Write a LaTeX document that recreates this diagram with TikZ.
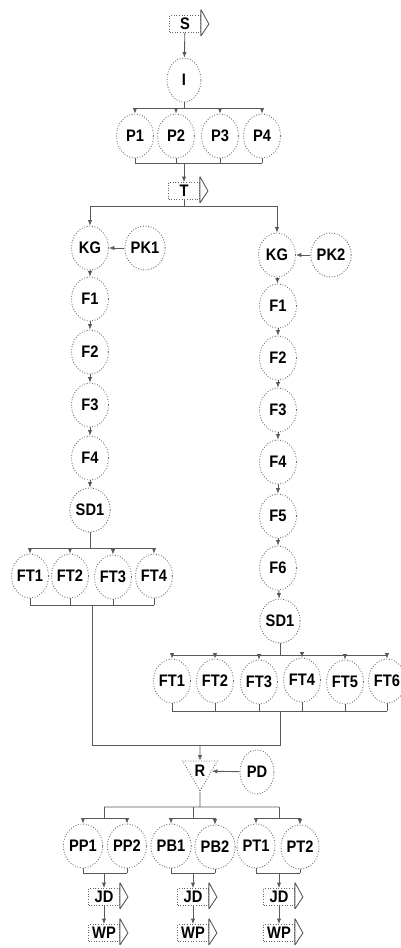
\documentclass[tikz,border=0pt]{standalone}
\usepackage{fontspec}
\setmainfont{Liberation Sans}
\newfontfamily\lblfont[FakeStretch=0.88, UprightFont={Liberation Sans Bold}, BoldFont={Liberation Sans Bold}]{Liberation Sans}
\usetikzlibrary{arrows.meta,shapes.geometric}

\begin{document}
\begin{tikzpicture}[x=0.02cm, y=-0.02cm, font=\lblfont\fontsize{9.5}{10}\selectfont, >={Latex[length=1.1mm,width=0.9mm]}, line width=0.5pt]
	\useasboundingbox (0,0) rectangle (401,948);
      \tikzstyle{st} = [ellipse, draw=black!60, densely dotted, minimum width=7.4mm, minimum height=8.8mm, inner sep=0pt]
      \tikzstyle{ev} = [rectangle, draw=black!60, densely dotted, minimum width=6.2mm, minimum height=3.4mm, inner sep=0pt]
      \tikzstyle{gate} = [regular polygon, regular polygon sides=3, shape border rotate=180, draw=black!60, densely dotted, minimum size=8mm, inner sep=0pt]
      \tikzstyle{ln} = [draw=black!65, solid]
      % top part
      \node (S) at (185,24) [ev] {S};
      \node (I) at (184,80) [st, minimum width=6.8mm] {I};
      \node (P1) at (135,136) [st] {P1};
      \node (P2) at (176,136) [st] {P2};
      \node (P3) at (220,136) [st] {P3};
      \node (P4) at (262,136) [st] {P4};
      \node (T) at (184,191) [ev] {T};
      % left branch
      \node (KGa) at (90,248) [st] {KG};
      \node (PK1) at (145,248) [st] {PK1};
      \node (F1a) at (90,299) [st] {F1};
      \node (F2a) at (90,352) [st] {F2};
      \node (F3a) at (90,405) [st] {F3};
      \node (F4a) at (90,458) [st] {F4};
      \node (SD1a) at (90,510) [st] {SD1};
      \node (FT1a) at (30,576) [st] {FT1};
      \node (FT2a) at (70,576) [st] {FT2};
      \node (FT3a) at (113,577) [st] {FT3};
      \node (FT4a) at (154,576) [st] {FT4};
      % right branch
      \node (KGb) at (277,255) [st] {KG};
      \node (PK2) at (331,255) [st] {PK2};
      \node (F1b) at (278,306) [st] {F1};
      \node (F2b) at (278,358) [st] {F2};
      \node (F3b) at (278,410) [st] {F3};
      \node (F4b) at (278,462) [st] {F4};
      \node (F5b) at (278,516) [st] {F5};
      \node (F6b) at (278,568) [st] {F6};
      \node (SD1b) at (280,621) [st] {SD1};
      \node (FT1b) at (172,681) [st] {FT1};
      \node (FT2b) at (215,681) [st] {FT2};
      \node (FT3b) at (259,682) [st] {FT3};
      \node (FT4b) at (302,680) [st] {FT4};
      \node (FT5b) at (345,682) [st] {FT5};
      \node (FT6b) at (387,681) [st] {FT6};
      % bottom part
      \node (R) at (200,771) [gate] {R};
      \node (PD) at (257,772) [st, minimum width=6.8mm] {PD};
      \node (PP1) at (83,846) [st] {PP1};
      \node (PP2) at (127,846) [st] {PP2};
      \node (PB1) at (171,846) [st] {PB1};
      \node (PB2) at (215,847) [st] {PB2};
      \node (PT1) at (256,846) [st] {PT1};
      \node (PT2) at (300,847) [st] {PT2};
      \node (JD1) at (104,897) [ev] {JD};
      \node (JD2) at (193,897) [ev] {JD};
      \node (JD3) at (279,897) [ev] {JD};
      \node (WP1) at (104,933) [ev] {WP};
      \node (WP2) at (193,933) [ev] {WP};
      \node (WP3) at (279,933) [ev] {WP};
      \foreach \n in {S,T,JD1,JD2,JD3,WP1,WP2,WP3}
        \draw[ln] ([yshift=1.1mm]\n.north east) -- ([yshift=-0.6mm]\n.south east) ([yshift=1.1mm]\n.north east) -- ([xshift=1.6mm]\n.east) -- ([yshift=-0.6mm]\n.south east);
      % bars
      \coordinate (pa) at (184,108);
      \coordinate (pb) at (184,163);
      \coordinate (ta) at (184,206);
      \coordinate (la) at (90,548);
      \coordinate (lb) at (92,605);
      \coordinate (ra) at (280,655);
      \coordinate (rb) at (280,711);
      \coordinate (ja) at (92,745);
      \coordinate (jb) at (280,745);
      \coordinate (ka) at (200,807);
      \coordinate (kb) at (200,818);
      \coordinate (kc) at (200,873);
      \draw[ln,->] (S) -- (I);
      \draw[ln] (I) -- (pa) (P1 |- pa) -- (P4 |- pa) (P1 |- pb) -- (P4 |- pb);
      \foreach \n in {P1,P2,P3,P4} {
        \draw[ln,->] (\n |- pa) -- (\n);
        \draw[ln] (\n) -- (\n |- pb);
      }
      \draw[ln,->] (pb) -- (T);
      \draw[ln] (T) -- (ta) (KGa |- ta) -- (KGb |- ta);
      \draw[ln,->] (KGa |- ta) -- (KGa);
      \draw[ln,->] (KGb |- ta) -- (KGb);
      \draw[ln,->] (PK1) -- (KGa);
      \draw[ln,->] (PK2) -- (KGb);
      \foreach \a/\b in {KGa/F1a,F1a/F2a,F2a/F3a,F3a/F4a,F4a/SD1a,KGb/F1b,F1b/F2b,F2b/F3b,F3b/F4b,F4b/F5b,F5b/F6b,F6b/SD1b}
        \draw[ln,->] (\a) -- (\b);
      \draw[ln] (SD1a) -- (la) (FT1a |- la) -- (FT4a |- la) (FT1a |- lb) -- (FT4a |- lb);
      \foreach \n in {FT1a,FT2a,FT3a,FT4a} {
        \draw[ln,->] (\n |- la) -- (\n);
        \draw[ln] (\n) -- (\n |- lb);
      }
      \draw[ln] (SD1b) -- (ra) (FT1b |- ra) -- (FT6b |- ra) (FT1b |- rb) -- (FT6b |- rb);
      \foreach \n in {FT1b,FT2b,FT3b,FT4b,FT5b,FT6b} {
        \draw[ln,->] (\n |- ra) -- (\n);
        \draw[ln] (\n) -- (\n |- rb);
      }
      \draw[ln] (lb) -- (ja) -- (jb) -- (rb);
      \draw[ln,->] (R |- ja) -- (R);
      \draw[ln,->] (PD) -- (R);
      \draw[ln] (R) -- (ka) (JD1 |- ka) -- (JD3 |- ka);
      \foreach \j/\a/\b in {1/PP1/PP2,2/PB1/PB2,3/PT1/PT2} {
        \draw[ln] (JD\j |- ka) -- (JD\j |- kb) (\a |- kb) -- (\b |- kb) (\a |- kc) -- (\b |- kc);
        \draw[ln,->] (\a |- kb) -- (\a);
        \draw[ln,->] (\b |- kb) -- (\b);
        \draw[ln] (\a) -- (\a |- kc) (\b) -- (\b |- kc);
        \draw[ln,->] (JD\j |- kc) -- (JD\j);
        \draw[ln,->] (JD\j) -- (WP\j);
      }
    \end{tikzpicture}
\end{document}
